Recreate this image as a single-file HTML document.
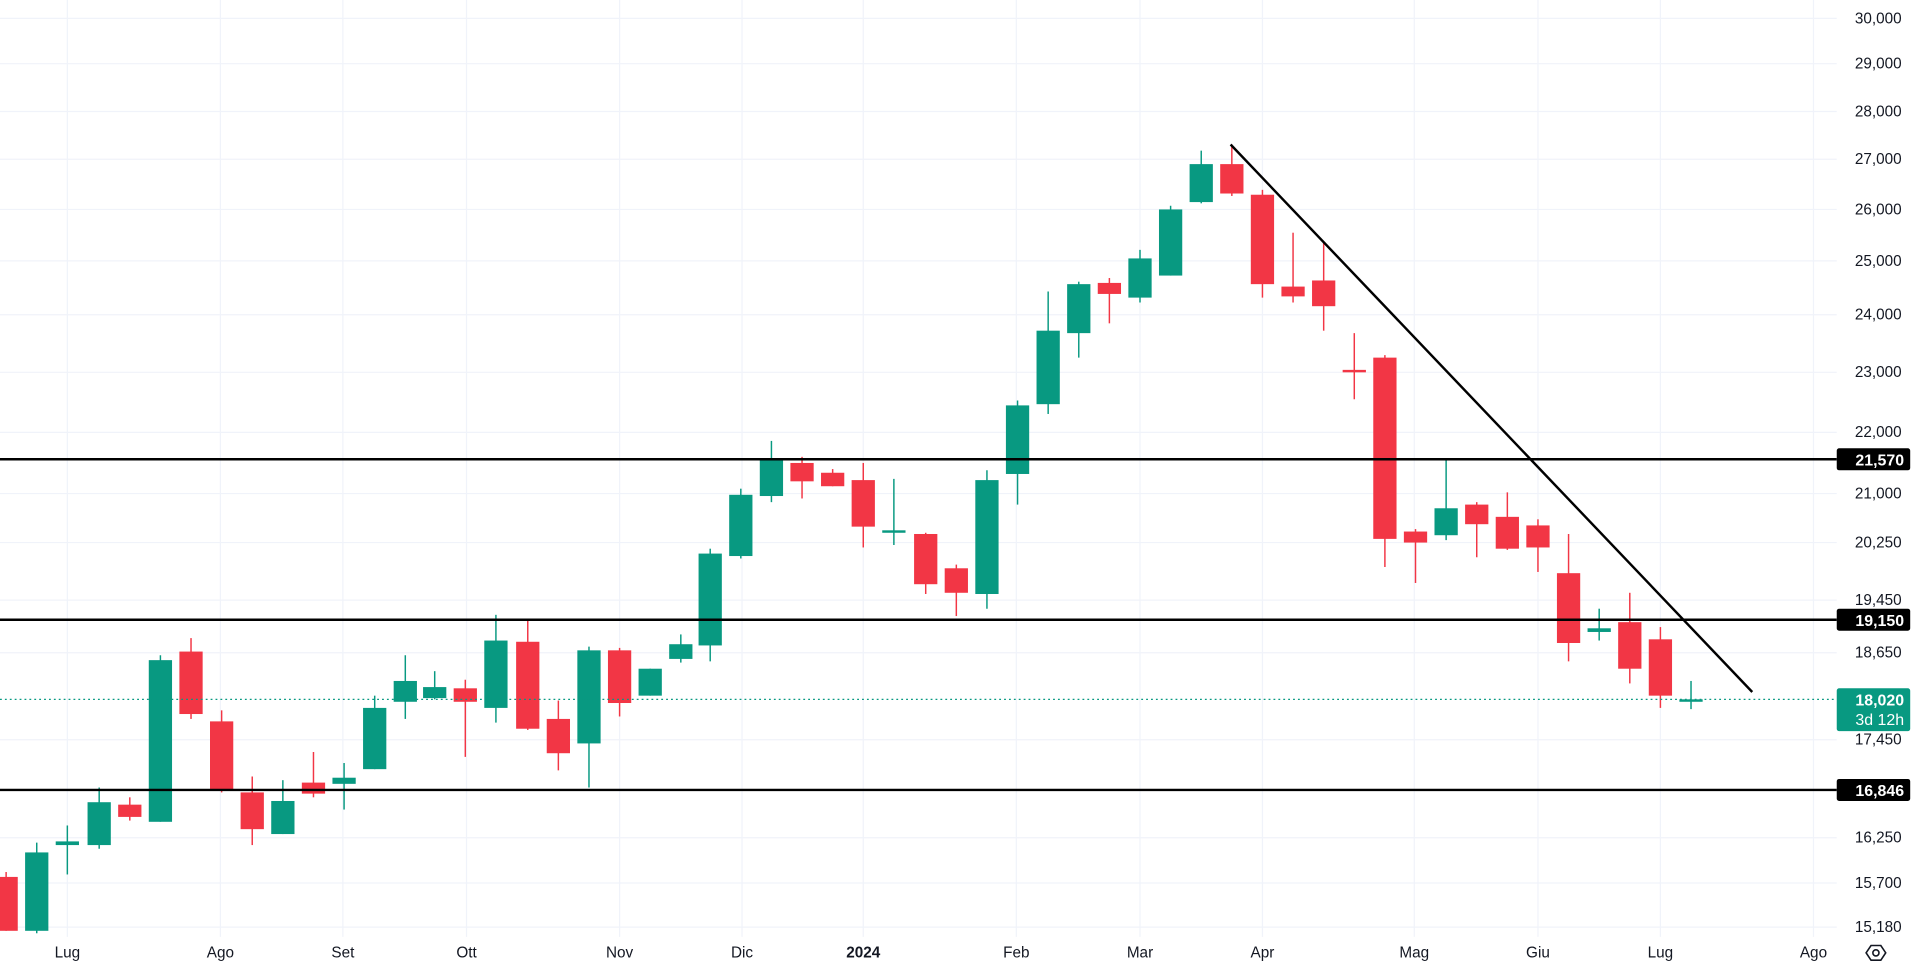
<!DOCTYPE html>
<html><head><meta charset="utf-8"><style>
html,body{margin:0;padding:0;background:#fff;overflow:hidden}
svg{display:block}
text{font-family:"Liberation Sans",sans-serif}
</style></head><body>
<svg id="s" width="1920" height="970" viewBox="0 0 1568 792" preserveAspectRatio="none" xmlns="http://www.w3.org/2000/svg">
<rect width="1568" height="792" fill="#fff"/>
<g id="grid" stroke="#f0f3fa" stroke-width="1"></g>
<g id="candles"></g>
<line x1="0" y1="375" x2="1500" y2="375" stroke="#000" stroke-width="2"/>
<line x1="0" y1="506" x2="1500" y2="506" stroke="#000" stroke-width="2"/>
<line x1="0" y1="645" x2="1500" y2="645" stroke="#000" stroke-width="2"/>
<line x1="1005" y1="118" x2="1431" y2="565" stroke="#000" stroke-width="2"/>
<line x1="0" y1="571" x2="1500" y2="571" stroke="#089981" stroke-width="1" stroke-dasharray="1.5,2.5"/>
<g font-size="12.5" fill="#131722" text-anchor="end">
<text x="1553" y="19">30,000</text>
<text x="1553" y="56">29,000</text>
<text x="1553" y="95">28,000</text>
<text x="1553" y="134">27,000</text>
<text x="1553" y="175">26,000</text>
<text x="1553" y="217">25,000</text>
<text x="1553" y="261">24,000</text>
<text x="1553" y="308">23,000</text>
<text x="1553" y="357">22,000</text>
<text x="1553" y="407">21,000</text>
<text x="1553" y="447">20,250</text>
<text x="1553" y="494">19,450</text>
<text x="1553" y="537">18,650</text>
<text x="1553" y="608">17,450</text>
<text x="1553" y="688">16,250</text>
<text x="1553" y="725">15,700</text>
<text x="1553" y="761">15,180</text>
</g>
<rect x="1500" y="366" width="60" height="18" rx="2" fill="#000"/>
<text x="1555" y="380" font-size="13" font-weight="bold" fill="#fff" text-anchor="end">21,570</text>
<rect x="1500" y="497" width="60" height="18" rx="2" fill="#000"/>
<text x="1555" y="511" font-size="13" font-weight="bold" fill="#fff" text-anchor="end">19,150</text>
<rect x="1500" y="636" width="60" height="18" rx="2" fill="#000"/>
<text x="1555" y="650" font-size="13" font-weight="bold" fill="#fff" text-anchor="end">16,846</text>
<rect x="1500" y="562" width="60" height="35" rx="2" fill="#089981"/>
<text x="1555" y="576" font-size="13" font-weight="bold" fill="#fff" text-anchor="end">18,020</text>
<text x="1555" y="592" font-size="13" fill="#fff" text-anchor="end">3d 12h</text>
<g font-size="12.5" fill="#131722" text-anchor="middle">
<text x="55" y="782">Lug</text><text x="180" y="782">Ago</text><text x="280" y="782">Set</text>
<text x="381" y="782">Ott</text><text x="506" y="782">Nov</text><text x="606" y="782">Dic</text>
<text x="705" y="782" font-weight="bold">2024</text><text x="830" y="782">Feb</text>
<text x="931" y="782">Mar</text><text x="1031" y="782">Apr</text><text x="1155" y="782">Mag</text>
<text x="1256" y="782">Giu</text><text x="1356" y="782">Lug</text><text x="1481" y="782">Ago</text>
</g>
<g transform="translate(1532,778)" fill="none" stroke="#131722" stroke-width="1.3">
<path d="M-8,0 L-4,-6 L4,-6 L8,0 L4,6 L-4,6 Z"/><circle r="2.5"/>
</g>
</svg>
<script>
var NS="http://www.w3.org/2000/svg";
var g=document.getElementById('grid');
[55,180,280,381,506,606,705,830,931,1031,1155,1256,1356,1481].forEach(function(x){
 var l=document.createElementNS(NS,'line');l.setAttribute('x1',x);l.setAttribute('x2',x);l.setAttribute('y1',0);l.setAttribute('y2',765);g.appendChild(l);});
[15,52,91,130,171,213,257,304,353,403,443,490,533,604,684,721,757].forEach(function(y){
 var l=document.createElementNS(NS,'line');l.setAttribute('x1',0);l.setAttribute('x2',1500);l.setAttribute('y1',y);l.setAttribute('y2',y);g.appendChild(l);});
var d=[[5,'r',716,760,712,760],[30,'g',696,760,688,762],[55,'g',687,690,674,714],[81,'g',655,690,643,693],
[106,'r',657,667,651,670],[131,'g',539,671,535,671],[156,'r',532,583,521,587],[181,'r',589,645,580,647],
[206,'r',647,677,634,690],[231,'g',654,681,637,681],[256,'r',639,648,614,651],[281,'g',635,640,623,661],
[306,'g',578,628,568,628],[331,'g',556,573,535,587],[355,'g',561,570,548,571],[380,'r',562,573,555,618],
[405,'g',523,578,502,590],[431,'r',524,595,506,596],[456,'r',587,615,572,629],[481,'g',531,607,528,643],
[506,'r',531,574,529,585],[531,'g',546,568,546,568],[556,'g',526,538,518,541],[580,'g',452,527,448,540],
[605,'g',404,454,399,456],[630,'g',376,405,360,410],[655,'r',378,393,373,407],[680,'r',386,397,383,397],
[705,'r',392,430,378,447],[730,'g',433,435,391,445],[756,'r',436,477,435,485],[781,'r',464,484,461,503],
[806,'g',392,485,384,497],[831,'g',331,387,327,412],[856,'g',270,330,238,338],[881,'g',232,272,230,292],
[906,'r',231,240,227,264],[931,'g',211,243,204,247],[956,'g',171,225,168,225],[981,'g',134,165,123,166],
[1006,'r',134,158,118,160],[1031,'r',159,232,155,243],[1056,'r',234,242,190,247],[1081,'r',229,250,197,270],
[1106,'r',302,304,272,326],[1131,'r',292,440,290,463],[1156,'r',434,443,432,476],[1181,'g',415,437,376,441],
[1206,'r',412,428,410,455],[1231,'r',422,448,402,449],[1256,'r',429,447,424,467],[1281,'r',468,525,436,540],
[1306,'g',513,516,497,523],[1331,'r',508,546,484,558],[1356,'r',522,568,512,578],[1381,'g',571,573,556,579]];
var c=document.getElementById('candles');
d.forEach(function(k){
 var col=k[1]=='g'?'#089981':'#f23645';
 var w=document.createElementNS(NS,'line');w.setAttribute('x1',k[0]);w.setAttribute('x2',k[0]);w.setAttribute('y1',k[4]);w.setAttribute('y2',k[5]);w.setAttribute('stroke',col);w.setAttribute('stroke-width',1.2);c.appendChild(w);
 var r=document.createElementNS(NS,'rect');r.setAttribute('x',k[0]-9.5);r.setAttribute('width',19);r.setAttribute('y',k[2]);r.setAttribute('height',Math.max(2,k[3]-k[2]));r.setAttribute('fill',col);c.appendChild(r);
});
</script>
</body></html>
